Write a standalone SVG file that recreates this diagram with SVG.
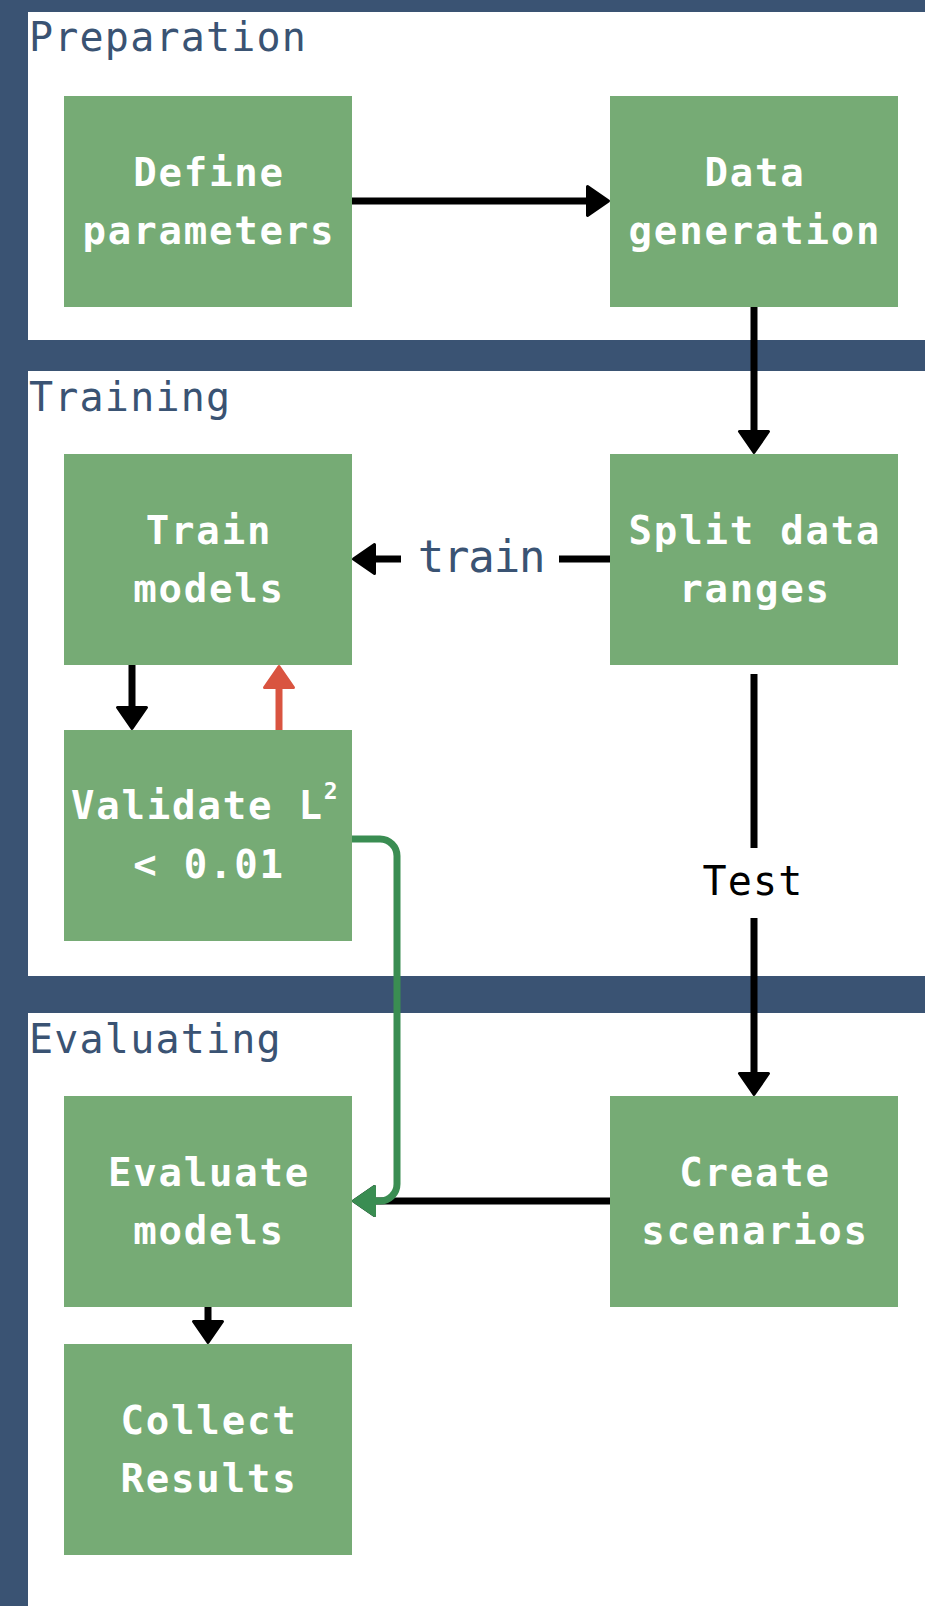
<svg xmlns="http://www.w3.org/2000/svg" width="925" height="1606" viewBox="0 0 925 1606">
  <style>
    .lane { fill: #ffffff; }
    .lane-label { font-family: "DejaVu Sans Mono", "Liberation Mono", monospace; font-size: 40px; letter-spacing: 1.2px; fill: #3a5373; }
    .node rect { fill: #76ab75; }
    .node text { font-family: "DejaVu Sans Mono", "Liberation Mono", monospace; font-size: 39px; font-weight: bold; letter-spacing: 1.8px; fill: #ffffff; text-anchor: middle; }
    .edge { fill: none; stroke-width: 7; stroke-linecap: butt; stroke-linejoin: round; }
    .edge-label { font-family: "DejaVu Sans Mono", "Liberation Mono", monospace; text-anchor: middle; }
  </style>
  <defs>
    <marker id="arrow-black" markerUnits="userSpaceOnUse" markerWidth="26" markerHeight="34" refX="3" refY="16" orient="auto" overflow="visible">
      <path d="M1.5,1.5 L22.5,16 L1.5,30.5 Z" fill="#000000" stroke="#000000" stroke-width="3" stroke-linejoin="round"/>
    </marker>
    <marker id="arrow-red" markerUnits="userSpaceOnUse" markerWidth="26" markerHeight="34" refX="3" refY="16" orient="auto" overflow="visible">
      <path d="M1.5,1.5 L22.5,16 L1.5,30.5 Z" fill="#d95440" stroke="#d95440" stroke-width="3" stroke-linejoin="round"/>
    </marker>
    <marker id="arrow-green" markerUnits="userSpaceOnUse" markerWidth="26" markerHeight="34" refX="3" refY="16" orient="auto" overflow="visible">
      <path d="M1.5,1.5 L22.5,16 L1.5,30.5 Z" fill="#3a8d52" stroke="#3a8d52" stroke-width="3" stroke-linejoin="round"/>
    </marker>
  </defs>

  <!-- swimlane frame -->
  <rect x="0" y="0" width="925" height="1606" fill="#3a5373"/>
  <g id="lane-preparation">
    <rect class="lane" x="28" y="12" width="897" height="328"/>
    <text class="lane-label" x="29" y="51">Preparation</text>
  </g>
  <g id="lane-training">
    <rect class="lane" x="28" y="371" width="897" height="605"/>
    <text class="lane-label" x="29" y="411">Training</text>
  </g>
  <g id="lane-evaluating">
    <rect class="lane" x="28" y="1013" width="897" height="593"/>
    <text class="lane-label" x="29" y="1053">Evaluating</text>
  </g>

  <!-- connectors -->
  <g id="connectors">
    <path class="edge" stroke="#000000" d="M352,201 H589" marker-end="url(#arrow-black)"/>
    <path class="edge" stroke="#000000" d="M754,307 V433" marker-end="url(#arrow-black)"/>
    <path class="edge" stroke="#000000" d="M610,559 H373" marker-end="url(#arrow-black)"/>
    <rect x="401" y="532" width="158" height="52" fill="#ffffff"/>
    <text class="edge-label" x="481" y="572" font-size="44" letter-spacing="-1.2" fill="#3a5373">train</text>
    <path class="edge" stroke="#000000" d="M132,665 V709" marker-end="url(#arrow-black)"/>
    <path class="edge" stroke="#d95440" d="M279,730 V686" marker-end="url(#arrow-red)"/>
    <path class="edge" stroke="#000000" d="M754,674 V1075" marker-end="url(#arrow-black)"/>
    <rect x="700" y="848" width="108" height="70" fill="#ffffff"/>
    <text class="edge-label" x="753" y="895" font-size="40" letter-spacing="1.2" fill="#000000">Test</text>
    <path class="edge" stroke="#000000" d="M610,1201 H373" marker-end="url(#arrow-black)"/>
    <path class="edge" stroke="#3a8d52" stroke-width="6.5" d="M352,839 H380 A17,17 0 0 1 397,856 V1184 A17,17 0 0 1 380,1201 H373" marker-end="url(#arrow-green)"/>
    <path class="edge" stroke="#000000" d="M208,1307 V1323" marker-end="url(#arrow-black)"/>
  </g>

  <!-- nodes -->
  <g id="node-define" class="node">
    <rect x="64" y="96" width="288" height="211"/>
    <text x="209" y="186">Define</text>
    <text x="209" y="243.5">parameters</text>
  </g>
  <g id="node-data" class="node">
    <rect x="610" y="96" width="288" height="211"/>
    <text x="755" y="186">Data</text>
    <text x="755" y="243.5">generation</text>
  </g>
  <g id="node-train" class="node">
    <rect x="64" y="454" width="288" height="211"/>
    <text x="209" y="544">Train</text>
    <text x="209" y="601.5">models</text>
  </g>
  <g id="node-split" class="node">
    <rect x="610" y="454" width="288" height="211"/>
    <text x="755" y="544">Split data</text>
    <text x="755" y="601.5">ranges</text>
  </g>
  <g id="node-validate" class="node">
    <rect x="64" y="730" width="288" height="211"/>
    <text x="71" y="819" style="text-anchor:start">Validate L<tspan font-size="23" letter-spacing="0" dy="-20">2</tspan></text>
    <text x="209" y="877.5">&lt; 0.01</text>
  </g>
  <g id="node-evaluate" class="node">
    <rect x="64" y="1096" width="288" height="211"/>
    <text x="209" y="1186">Evaluate</text>
    <text x="209" y="1243.5">models</text>
  </g>
  <g id="node-create" class="node">
    <rect x="610" y="1096" width="288" height="211"/>
    <text x="755" y="1186">Create</text>
    <text x="755" y="1243.5">scenarios</text>
  </g>
  <g id="node-collect" class="node">
    <rect x="64" y="1344" width="288" height="211"/>
    <text x="209" y="1434">Collect</text>
    <text x="209" y="1491.5">Results</text>
  </g>
</svg>
